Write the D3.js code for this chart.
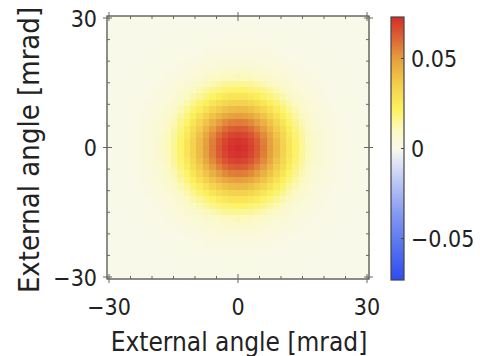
<!DOCTYPE html>
<html>
<head>
<meta charset="utf-8">
<script src="https://cdn.jsdelivr.net/npm/d3@7"></script>
<style>
  body { margin: 0; background: #fff; }
  text { font-family: "DejaVu Sans Condensed", "DejaVu Sans", sans-serif; font-stretch: condensed; fill: #222; }
</style>
</head>
<body>
<div id="chart"></div>
<script>
// grid positions (mrad), -30..30 step 1.5
const angles = d3.range(41).map(i => -30 + i * 1.5);
// profile along one axis (peak at centre)
const profileHalf = [0.0730, 0.0719, 0.0686, 0.0635, 0.0569, 0.0495, 0.0417, 0.0340, 0.0269, 0.0207,
  0.0154, 0.0111, 0.0078, 0.0053, 0.0035, 0.0022, 0.0014, 0.0008, 0.0005, 0.0003, 0.0001];
const profileX = profileHalf.slice(1).reverse().concat(profileHalf);
const profileY = profileX.slice();
const peak = 0.073;
const axisTicks = [-30, 0, 30];
const minorTicks = d3.range(-30, 31, 5);
const cbTicks = [-0.05, 0, 0.05];
const cbRange = [-0.073, 0.073];

const width = 480, height = 356;
const pLeft = 107, pRight = 369, pTop = 16, pBottom = 279;

const svg = d3.select("#chart").append("svg")
  .attr("width", width).attr("height", height);

// scales
const x = d3.scaleLinear().domain([-30, 30]).range([pLeft + 2, pRight - 2]);
const y = d3.scaleLinear().domain([-30, 30]).range([pBottom - 2, pTop + 2]);
const xb = d3.scaleBand().domain(angles).range([pLeft, pRight]);
const yb = d3.scaleBand().domain(angles).range([pBottom, pTop]);

// temperature-like colour map
const stopPos = [0, 0.12, 0.25, 0.37, 0.45, 0.5, 0.57, 0.65, 0.75, 0.84, 0.92, 1];
const stops = ["#2e4cf0", "#5270ef", "#8499f1", "#bac6f4", "#e2e6f4", "#f9f9e9", "#fbf9c2",
  "#fcf25e", "#f2cb4b", "#e59f3e", "#dc6434", "#d42c2c"];
const color = d3.scaleLinear()
  .domain(stopPos.map(t => cbRange[0] + t * (cbRange[1] - cbRange[0])))
  .range(stops).clamp(true);

// cells
const cells = [];
angles.forEach((ax, i) => angles.forEach((ay, j) => {
  cells.push({ax, ay, v: profileX[i] * profileY[j] / peak});
}));

svg.append("g").selectAll("rect")
  .data(cells).enter().append("rect")
    .attr("x", d => xb(d.ax))
    .attr("y", d => yb(d.ay))
    .attr("width", xb.bandwidth() + 0.5)
    .attr("height", yb.bandwidth() + 0.5)
    .attr("fill", d => color(d.v))
    .attr("shape-rendering", "crispEdges");

// frame
svg.append("rect")
  .attr("x", pLeft).attr("y", pTop)
  .attr("width", pRight - pLeft).attr("height", pBottom - pTop)
  .attr("fill", "none").attr("stroke", "#444").attr("stroke-width", 1.2);

// ticks on frame
const tk = svg.append("g").attr("stroke", "#666").attr("stroke-width", 1);
minorTicks.forEach(t => {
  const major = axisTicks.includes(t);
  const len = major ? 5 : 3;
  const out = major ? 4 : 0;
  tk.append("line").attr("x1", x(t)).attr("x2", x(t)).attr("y1", pBottom + out).attr("y2", pBottom - len);
  tk.append("line").attr("x1", x(t)).attr("x2", x(t)).attr("y1", pTop - out).attr("y2", pTop + len);
  tk.append("line").attr("y1", y(t)).attr("y2", y(t)).attr("x1", pLeft - out).attr("x2", pLeft + len);
  tk.append("line").attr("y1", y(t)).attr("y2", y(t)).attr("x1", pRight + out).attr("x2", pRight - len);
});

const fmt = v => (v < 0 ? "\u2212" + Math.abs(v) : String(v));

// tick labels
svg.append("g").selectAll("text").data(axisTicks).enter().append("text")
  .attr("x", d => x(d)).attr("y", 315)
  .attr("text-anchor", "middle").style("font-size", "23px")
  .text(fmt);
svg.append("g").selectAll("text").data(axisTicks).enter().append("text")
  .attr("x", 97).attr("y", d => y(d) + 8.5)
  .attr("text-anchor", "end").style("font-size", "23px")
  .text(fmt);

// axis titles
svg.append("text")
  .attr("x", 239).attr("y", 351)
  .attr("text-anchor", "middle").style("font-size", "26px")
  .text("External angle [mrad]");
svg.append("text")
  .attr("transform", "translate(39,150) rotate(-90)")
  .attr("text-anchor", "middle").style("font-size", "29px")
  .text("External angle [mrad]");

// colour bar
const cbX = 391, cbW = 13, cbTop = 17, cbBottom = 280;
const cy = d3.scaleLinear().domain(cbRange).range([cbBottom, cbTop]);
const defs = svg.append("defs");
const grad = defs.append("linearGradient").attr("id", "cbgrad")
  .attr("x1", 0).attr("y1", 1).attr("x2", 0).attr("y2", 0);
stopPos.forEach((t, i) => grad.append("stop").attr("offset", t).attr("stop-color", stops[i]));

svg.append("rect")
  .attr("x", cbX).attr("y", cbTop).attr("width", cbW).attr("height", cbBottom - cbTop)
  .attr("fill", "url(#cbgrad)").attr("stroke", "#444").attr("stroke-width", 1.2);

svg.append("g").selectAll("line").data(cbTicks).enter().append("line")
  .attr("x1", cbX + cbW - 3).attr("x2", cbX + cbW)
  .attr("y1", d => cy(d)).attr("y2", d => cy(d))
  .attr("stroke", "#444");
svg.append("g").selectAll("text").data(cbTicks).enter().append("text")
  .attr("x", 411).attr("y", d => cy(d) + 8.5)
  .style("font-size", "23px")
  .text(d => d === 0 ? "0" : fmt(d));
</script>
</body>
</html>
